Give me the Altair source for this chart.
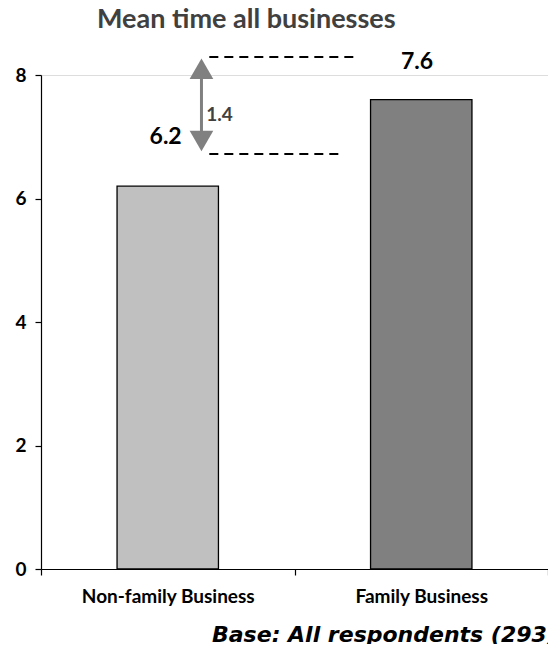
import altair as alt
import pandas as pd

# ---- data ----
categories = ["Non-family Business", "Family Business"]
values = [6.2, 7.6]
bar_colors = ["#c0c0c0", "#808080"]
y_ticks = [0, 2, 4, 6, 8]
x_ticks = [0, 1, 2]

title_text = "Mean time all businesses"
footnote_text = "Base: All respondents (293)"

# annotation: dashed guide lines (x start, x end, y level)
dash_x = [0.664, 0.664]
dash_x2 = [1.246, 1.18]
dash_y = [8.29, 6.72]

# annotation: difference arrow
arrow_x = [0.633]
arrow_y = [7.0]
arrow_y2 = [8.0]
head_y = [8.10, 6.93]
head_shape = ["triangle-up", "triangle-down"]

# annotation labels
lab_text = ["6.2", "7.6", "1.4"]
lab_x = [0.555, 1.42, 0.652]
lab_y = [7.0, 8.21, 7.35]
lab_align = ["right", "left", "left"]
lab_size = [23, 23, 19]
lab_color = ["#000000", "#000000", "#404040"]

FONT = "Lato"
W, H = 507, 494

bars_df = pd.DataFrame({
    "category": categories,
    "idx": list(range(len(categories))),
    "value": values,
})

xscale = alt.Scale(domain=[0, 2], nice=False, zero=False)
yscale = alt.Scale(domain=[0, 8], nice=False)

label_expr = ("datum.value == 0 ? 'Non-family Business' : "
              "datum.value == 1 ? 'Family Business' : ''")

bars = alt.Chart(bars_df).transform_calculate(
    x0="datum.idx + 0.3", x1="datum.idx + 0.7"
).mark_bar(stroke="black", strokeWidth=1.3).encode(
    x=alt.X("x0:Q", scale=xscale, axis=alt.Axis(
        values=x_ticks, title=None, grid=False, labelExpr=label_expr,
        labelOffset=W / 4, labelPadding=12, labelFont=FONT, labelFontSize=19,
        labelFontWeight="bold", labelColor="black", labelFlush=False,
        labelOverlap=False, tickSize=6, tickColor="black", domainColor="black",
        tickWidth=1.2, domainWidth=1.2)),
    x2="x1:Q",
    y=alt.Y("value:Q", scale=yscale, axis=alt.Axis(
        values=y_ticks, format="d", title=None, grid=False, labelFont=FONT,
        labelFontSize=19, labelFontWeight="bold", labelColor="black",
        labelPadding=9, tickSize=6, tickColor="black", domainColor="black",
        tickWidth=1.2, domainWidth=1.2)),
    y2=alt.datum(0),
    color=alt.Color("category:N", scale=alt.Scale(domain=categories, range=bar_colors),
                    legend=None),
)

dash_df = pd.DataFrame({"x": dash_x, "x2": dash_x2, "y": dash_y})
dashes = alt.Chart(dash_df).mark_rule(color="black", strokeWidth=2,
                                      strokeDash=[9, 6]).encode(
    x=alt.X("x:Q", scale=xscale), x2="x2:Q", y=alt.Y("y:Q", scale=yscale))

arrow_df = pd.DataFrame({"x": arrow_x, "y": arrow_y, "y2": arrow_y2})
shaft = alt.Chart(arrow_df).mark_rule(color="#808080", strokeWidth=3).encode(
    x=alt.X("x:Q", scale=xscale), y=alt.Y("y:Q", scale=yscale), y2="y2:Q")

head_df = pd.DataFrame({"x": arrow_x * 2, "y": head_y, "shape": head_shape})
heads = alt.Chart(head_df).mark_point(filled=True, color="#808080", opacity=1,
                                      size=560).encode(
    x=alt.X("x:Q", scale=xscale), y=alt.Y("y:Q", scale=yscale),
    shape=alt.Shape("shape:N", scale=None, legend=None))

lab_layers = []
for t, xx, yy, al, sz, col in zip(lab_text, lab_x, lab_y, lab_align, lab_size, lab_color):
    d = pd.DataFrame({"x": [xx], "y": [yy], "t": [t]})
    lab_layers.append(alt.Chart(d).mark_text(
        align=al, baseline="middle", font=FONT, fontWeight="bold",
        fontSize=sz, color=col).encode(
        x=alt.X("x:Q", scale=xscale), y=alt.Y("y:Q", scale=yscale), text="t:N"))

one = pd.DataFrame({"t": [title_text]})
title = alt.Chart(one).mark_text(
    align="left", baseline="alphabetic", font=FONT, fontWeight="bold",
    fontSize=27, color="#404040").encode(
    x=alt.value(56), y=alt.value(-47), text="t:N")

foot_df = pd.DataFrame({"t": [footnote_text]})
foot = alt.Chart(foot_df).mark_text(
    align="left", baseline="alphabetic", font="DejaVu Sans", fontWeight="bold",
    fontStyle="italic", fontSize=22, color="#000000").encode(
    x=alt.value(171), y=alt.value(567), text="t:N")

chart = alt.layer(bars, dashes, shaft, heads, *lab_layers, title, foot).properties(
    width=W, height=H,
    autosize=alt.AutoSizeParams(type="none"),
    padding={"left": 33, "top": 67, "right": 0, "bottom": 75},
).configure_view(stroke=None).configure(background="white")

chart.save("out.html", embed_options={"renderer": "svg", "actions": False})
